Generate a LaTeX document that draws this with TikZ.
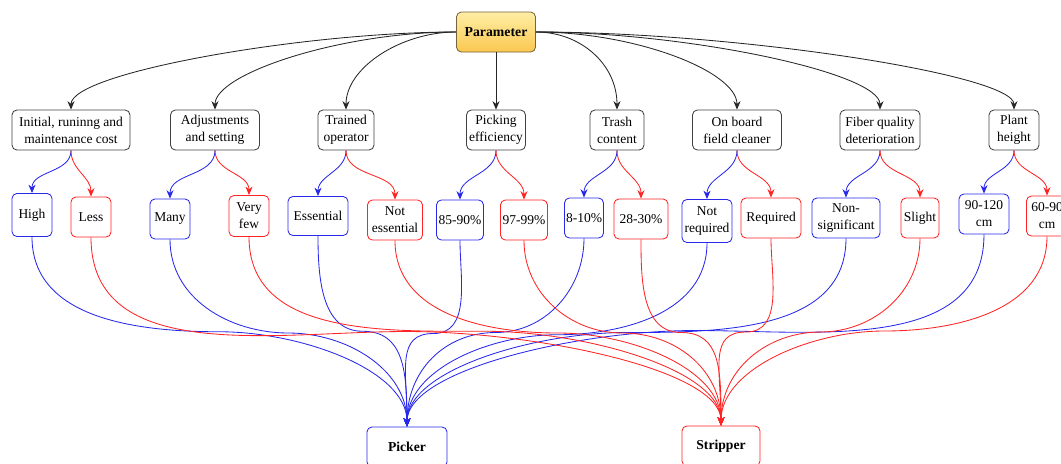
\documentclass[tikz,border=0pt]{standalone}
\usepackage{fontspec}
\setmainfont{Liberation Serif}
\usetikzlibrary{arrows.meta,calc}
\definecolor{pickblue}{RGB}{40,40,235}
\definecolor{stripred}{RGB}{255,35,35}
\definecolor{paramline}{RGB}{120,100,60}
\newcommand{\px}{0.025cm}
\tikzstyle{box}=[draw, rounded corners=3.5pt, align=center, inner sep=1pt, line width=0.6pt, font=\fontsize{9.6}{12}\selectfont]
\tikzstyle{crit}=[box, draw=black!75]
\tikzstyle{pickopt}=[box, draw=pickblue]
\tikzstyle{stripopt}=[box, draw=stripred]
\tikzstyle{param}=[box, draw=paramline, top color={rgb,255:red,255;green,238;blue,165}, bottom color={rgb,255:red,250;green,200;blue,80}, font=\bfseries\fontsize{9.8}{12}\selectfont]
\tikzstyle{machine}=[box, font=\bfseries\fontsize{9.7}{12}\selectfont]
\tikzstyle{toparrow}=[-{Stealth[length=6pt,width=5pt]}, black!85, line width=0.6pt]
\tikzstyle{bluearrow}=[-{Stealth[length=6pt,width=5pt]}, pickblue, line width=0.6pt]
\tikzstyle{redarrow}=[-{Stealth[length=6pt,width=5pt]}, stripred, line width=0.6pt]

\begin{document}
\begin{tikzpicture}[x=\px, y=\px]
\useasboundingbox (0,0) rectangle (1061,-463);
% root
\node[param, minimum width=79*\px, minimum height=40*\px] (param) at (496,-32) {Parameter};
% criteria
\node[crit, minimum width=118*\px, minimum height=40*\px] (init) at (71,-130) {Initial, runinng and\\maintenance cost};
\node[crit, minimum width=89*\px, minimum height=40*\px] (adjust) at (215,-130) {Adjustments\\and setting};
\node[crit, minimum width=56*\px, minimum height=40*\px] (train) at (346,-130) {Trained\\operator};
\node[crit, minimum width=59*\px, minimum height=40*\px] (pick) at (496,-130) {Picking\\efficiency};
\node[crit, minimum width=54*\px, minimum height=40*\px] (trash) at (617,-130) {Trash\\content};
\node[crit, minimum width=89*\px, minimum height=40*\px] (board) at (737,-130) {On board\\field cleaner};
\node[crit, minimum width=80*\px, minimum height=40*\px] (fiber) at (880,-130) {Fiber quality\\deterioration};
\node[crit, minimum width=50*\px, minimum height=40*\px] (plant) at (1014,-130) {Plant\\height};
% options
\node[pickopt, minimum width=40*\px, minimum height=43*\px] (high) at (32,-215) {High};
\node[stripopt, minimum width=40*\px, minimum height=40*\px] (less) at (91,-217) {Less};
\node[pickopt, minimum width=40*\px, minimum height=40*\px] (many) at (170,-219) {Many};
\node[stripopt, minimum width=40*\px, minimum height=41*\px] (few) at (249,-216) {Very\\few};
\node[pickopt, minimum width=60*\px, minimum height=39*\px] (ess) at (318,-216) {Essential};
\node[stripopt, minimum width=55*\px, minimum height=40*\px] (noess) at (395,-220) {Not\\essential};
\node[pickopt, minimum width=47*\px, minimum height=40*\px] (eff85) at (460,-220) {85-90\%};
\node[stripopt, minimum width=47*\px, minimum height=40*\px] (eff97) at (524,-220) {97-99\%};
\node[pickopt, minimum width=39*\px, minimum height=40*\px] (tr8) at (584,-218) {8-10\%};
\node[stripopt, minimum width=54*\px, minimum height=40*\px] (tr28) at (641,-219) {28-30\%};
\node[pickopt, minimum width=50*\px, minimum height=43*\px] (noreq) at (707,-221) {Not\\required};
\node[stripopt, minimum width=60*\px, minimum height=40*\px] (req) at (771,-218) {Required};
\node[pickopt, minimum width=68*\px, minimum height=40*\px] (nonsig) at (846,-218) {Non-\\significant};
\node[stripopt, minimum width=38*\px, minimum height=40*\px] (slight) at (920,-218) {Slight};
\node[pickopt, minimum width=50*\px, minimum height=40*\px] (h90) at (984,-214) {90-120\\cm};
\node[stripopt, minimum width=41*\px, minimum height=40*\px] (h60) at (1047,-216) {60-90\\cm};
% machines
\node[machine, draw=pickblue, minimum width=80*\px, minimum height=40*\px] (picker) at (407,-447) {Picker};
\node[machine, draw=stripred, minimum width=78*\px, minimum height=40*\px] (stripper) at (721,-446) {Stripper};
% root to criteria
\draw[toparrow] (param.west) .. controls +(-152,0) and +(0,37) .. (init.north);
\draw[toparrow] (param.west) .. controls +(-115,0) and +(0,36) .. (adjust.north);
\draw[toparrow] (param.west) .. controls +(-55,0) and +(0,42) .. (train.north);
\draw[toparrow] (param.south) -- (pick.north);
\draw[toparrow] (param.east) .. controls +(45,0) and +(0,45) .. (trash.north);
\draw[toparrow] (param.east) .. controls +(100,0) and +(0,38) .. (board.north);
\draw[toparrow] (param.east) .. controls +(150,0) and +(0,37) .. (fiber.north);
\draw[toparrow] (param.east) .. controls +(200,0) and +(0,35) .. (plant.north);
% criteria to options
\draw[bluearrow] (init.south) to[out=-90,in=90] (high.north);
\draw[redarrow] (init.south) to[out=-90,in=90] (less.north);
\draw[bluearrow] (adjust.south) to[out=-90,in=90] (many.north);
\draw[redarrow] (adjust.south) to[out=-90,in=90] (few.north);
\draw[bluearrow] (train.south) to[out=-90,in=90] (ess.north);
\draw[redarrow] (train.south) to[out=-90,in=90] (noess.north);
\draw[bluearrow] (pick.south) to[out=-90,in=90] (eff85.north);
\draw[redarrow] (pick.south) to[out=-90,in=90] (eff97.north);
\draw[bluearrow] (trash.south) to[out=-90,in=90] (tr8.north);
\draw[redarrow] (trash.south) to[out=-90,in=90] (tr28.north);
\draw[bluearrow] (board.south) to[out=-90,in=90] (noreq.north);
\draw[redarrow] (board.south) to[out=-90,in=90] (req.north);
\draw[bluearrow] (fiber.south) to[out=-90,in=90] (nonsig.north);
\draw[redarrow] (fiber.south) to[out=-90,in=90] (slight.north);
\draw[bluearrow] (plant.south) to[out=-90,in=90] (h90.north);
\draw[redarrow] (plant.south) to[out=-90,in=90] (h60.north);
% options to picker
\draw[bluearrow] (high.south) to[out=-90,in=180] ($(high.south)!.5!(picker.north)$) to[out=0,in=90,in distance=40pt] (picker.north);
\draw[bluearrow] (many.south) to[out=-90,in=180] ($(many.south)!.5!(picker.north)$) to[out=0,in=90,in distance=40pt] (picker.north);
\draw[bluearrow] (ess.south) to[out=-90,in=180] ($(ess.south)!.5!(picker.north)$) to[out=0,in=90,in distance=40pt] (picker.north);
\draw[bluearrow] (eff85.south) to[out=-90,in=0] ($(eff85.south)!.5!(picker.north)$) to[out=180,in=90,in distance=40pt] (picker.north);
\draw[bluearrow] (tr8.south) to[out=-90,in=0] ($(tr8.south)!.5!(picker.north)$) to[out=180,in=90,in distance=40pt] (picker.north);
\draw[bluearrow] (noreq.south) to[out=-90,in=0] ($(noreq.south)!.5!(picker.north)$) to[out=180,in=90,in distance=40pt] (picker.north);
\draw[bluearrow] (nonsig.south) to[out=-90,in=0] ($(nonsig.south)!.5!(picker.north)$) to[out=180,in=90,in distance=40pt] (picker.north);
\draw[bluearrow] (h90.south) to[out=-90,in=0] ($(h90.south)!.5!(picker.north)$) to[out=180,in=90,in distance=40pt] (picker.north);
% options to stripper
\draw[redarrow] (less.south) to[out=-90,in=180] ($(less.south)!.5!(stripper.north)$) to[out=0,in=90,in distance=40pt] (stripper.north);
\draw[redarrow] (few.south) to[out=-90,in=180] ($(few.south)!.5!(stripper.north)$) to[out=0,in=90,in distance=40pt] (stripper.north);
\draw[redarrow] (noess.south) to[out=-90,in=180] ($(noess.south)!.5!(stripper.north)$) to[out=0,in=90,in distance=40pt] (stripper.north);
\draw[redarrow] (eff97.south) to[out=-90,in=180] ($(eff97.south)!.5!(stripper.north)$) to[out=0,in=90,in distance=40pt] (stripper.north);
\draw[redarrow] (tr28.south) to[out=-90,in=180] ($(tr28.south)!.5!(stripper.north)$) to[out=0,in=90,in distance=40pt] (stripper.north);
\draw[redarrow] (req.south) to[out=-90,in=0] ($(req.south)!.5!(stripper.north)$) to[out=180,in=90,in distance=40pt] (stripper.north);
\draw[redarrow] (slight.south) to[out=-90,in=0] ($(slight.south)!.5!(stripper.north)$) to[out=180,in=90,in distance=40pt] (stripper.north);
\draw[redarrow] (h60.south) to[out=-90,in=0] ($(h60.south)!.5!(stripper.north)$) to[out=180,in=90,in distance=40pt] (stripper.north);
\end{tikzpicture}
\end{document}
